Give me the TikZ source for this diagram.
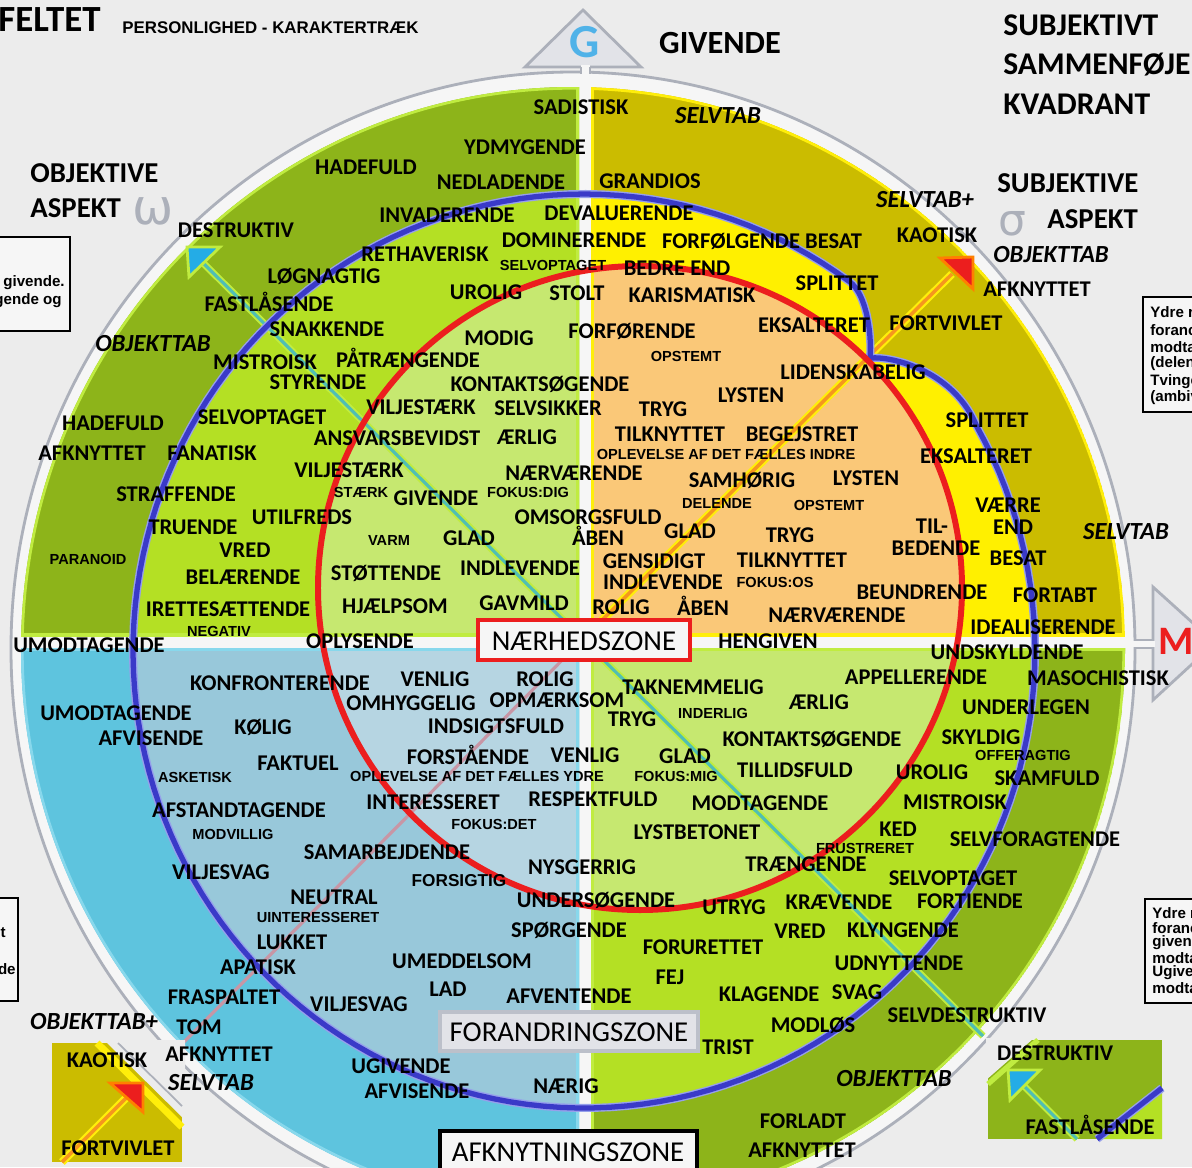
\documentclass[tikz,border=0pt]{standalone}
\usepackage{fontspec}
\setmainfont{Carlito}
\newfontfamily\arialfont{Liberation Sans}
\newfontfamily\symfont{DejaVu Sans}
\usepackage{xcolor}
\usepackage{tikz}

%% colours
\definecolor{bgc}{RGB}{236,236,236}
\definecolor{ringc}{RGB}{246,246,246}
\definecolor{rimc}{RGB}{172,176,186}
\definecolor{trifill}{RGB}{226,227,232}
\definecolor{tlout}{RGB}{141,180,26}
\definecolor{tlmid}{RGB}{180,224,36}
\definecolor{tlin}{RGB}{198,232,112}
\definecolor{tlrim}{RGB}{192,236,64}
\definecolor{trout}{RGB}{203,188,0}
\definecolor{trmid}{RGB}{255,240,0}
\definecolor{trin}{RGB}{250,200,120}
\definecolor{trrim}{RGB}{255,238,10}
\definecolor{blout}{RGB}{94,196,222}
\definecolor{blmid}{RGB}{152,200,218}
\definecolor{blin}{RGB}{182,213,226}
\definecolor{blrim}{RGB}{136,216,236}
\definecolor{bluel}{RGB}{58,58,200}
\definecolor{blueglow}{RGB}{150,160,235}
\definecolor{redl}{RGB}{236,30,30}
\definecolor{teall}{RGB}{80,190,180}
\definecolor{mauvel}{RGB}{200,150,165}
\definecolor{orangel}{RGB}{245,150,30}
\definecolor{headblue}{RGB}{36,172,230}
\definecolor{gblue}{RGB}{80,178,232}
\definecolor{zonegray}{RGB}{188,192,202}

%% paths shared by the quadrants
\def\outerdisk{(573,649) ellipse [x radius=552, y radius=562]}
\def\reddisk{(640,588) circle [radius=322]}
\def\bluepath{plot[variable=\ang,domain=-29.4:306.1,samples=160] ({584+451*cos(\ang)},{651+457*sin(\ang)}) .. controls (866,294) and (872,332) .. (870,358) .. controls (894,356) and (955,372) .. (977,427) -- cycle}

\begin{document}
\begin{tikzpicture}[x=0.02cm,y=-0.02cm,
  lbl/.style={inner sep=0pt,text height=8.2pt,text depth=0pt,font=\bfseries\fontsize{12.8}{14}\selectfont},
  sml/.style={inner sep=0pt,text height=5.9pt,text depth=0pt,font=\arialfont\bfseries\fontsize{8.3}{9}\selectfont},
  itl/.style={inner sep=0pt,text height=9pt,text depth=0pt,font=\bfseries\itshape\fontsize{14}{15}\selectfont},
  hdg/.style={inner sep=0pt,anchor=west,font=\bfseries\fontsize{16.4}{18}\selectfont},
  zone/.style={inner sep=0pt,font=\fontsize{16.4}{18}\selectfont},
  boxtxt/.style={inner sep=0pt,anchor=west,font=\arialfont\bfseries\fontsize{8.6}{9}\selectfont}]
\useasboundingbox (0,0) rectangle (1192,1167);
\clip (0,0) rectangle (1192,1167);
\fill[bgc] (0,0) rectangle (1192,1167);
%% outer ring
\filldraw[fill=ringc,draw=rimc,line width=1.6pt] (573,649) ellipse [x radius=562, y radius=577];
%% quadrants
\foreach \qx/\qy/\qX/\qY/\oc/\mc/\ic/\rc in {-20/-20/579/636/tlout/tlmid/tlin/tlrim,
  591/-20/1220/636/trout/trmid/trin/trrim, -20/648/579/1220/blout/blmid/blin/blrim,
  591/648/1220/1220/tlout/tlmid/tlin/tlrim}{
  \begin{scope}
    \clip (\qx,\qy) rectangle (\qX,\qY);
    \clip \outerdisk;
    \fill[\oc] \outerdisk;
    \fill[\mc] \bluepath;
    \fill[\ic] \reddisk;
    \draw[\rc,line width=3pt] \outerdisk;
    \draw[\rc,line width=3pt] (\qx,\qy) rectangle (\qX,\qY);
  \end{scope}
}
%% diagonals
\draw[tlrim,line width=4pt] (192,252) -- (983,1036);
\draw[teall,line width=1.8pt] (192,252) -- (983,1036);
\draw[mauvel,line width=1.8pt] (582,640) -- (178,1048);
\draw[trrim,line width=4.5pt] (590,632) -- (952,274);
\draw[orangel,line width=2pt] (590,632) -- (952,274);
%% circles
\draw[blueglow,line width=4.6pt] \bluepath;
\draw[bluel,line width=3pt] \bluepath;
\draw[redl,line width=3.4pt] \reddisk;
%% arrow heads
\filldraw[fill=headblue,draw=tlrim,line width=1.6pt] (187,247) -- (220,247) -- (189,277) -- cycle;
\filldraw[fill=redl,draw=orange,line width=1.6pt] (940,258) -- (973,257) -- (973,289) -- cycle;
%% G and M pointers
\filldraw[fill=trifill,draw=rimc,line width=1.6pt] (583,10) -- (641,67) -- (525,67) -- cycle;
\fill[ringc] (581,65) rectangle (590,80);
\draw[rimc,line width=1.6pt] (581,67) -- (581,74) (590,67) -- (590,74);
\node[text=gblue,inner sep=0pt,font=\bfseries\fontsize{27}{27}\selectfont] (gsym) at (585,42) {G};
\filldraw[fill=trifill,draw=rimc,line width=1.6pt] (1153,587) -- (1215,643) -- (1153,700) -- cycle;
\fill[ringc] (1130,641) rectangle (1155,647);
\draw[rimc,line width=1.6pt] (1134,640) -- (1153,640) (1134,648) -- (1153,648);
\node[text=redl,inner sep=0pt,font=\bfseries\fontsize{23}{23}\selectfont] (msym) at (1176,641) {M};
%% aspect symbols
\node[text=rimc,inner sep=0pt,font=\symfont\fontsize{28}{28}\selectfont] (omg) at (153,211) {ω};
\node[text=rimc,inner sep=0pt,font=\symfont\fontsize{25}{25}\selectfont] (sig) at (1012,224) {σ};
%% headings
\node[inner sep=0pt,anchor=west,font=\bfseries\fontsize{21}{22}\selectfont] (felt) at (-2,20) {FELTET};
\node[inner sep=0pt,anchor=west,font=\arialfont\bfseries\fontsize{9.6}{10}\selectfont] (pers) at (122,28) {PERSONLIGHED - KARAKTERTRÆK};
\node[inner sep=0pt,font=\bfseries\fontsize{18.4}{20}\selectfont] (giv) at (720,43) {GIVENDE};
\node[hdg,font=\bfseries\fontsize{18}{20}\selectfont] (sub1) at (1003,25) {SUBJEKTIVT};
\node[hdg,font=\bfseries\fontsize{18}{20}\selectfont] (sub2) at (1003,65) {SAMMENFØJE};
\node[hdg,font=\bfseries\fontsize{18}{20}\selectfont] (sub3) at (1003,104) {KVADRANT};
\node[hdg] (obj1) at (30,173) {OBJEKTIVE};
\node[hdg] (obj2) at (30,208) {ASPEKT};
\node[hdg] (sas1) at (997,183) {SUBJEKTIVE};
\node[hdg] (sas2) at (1047,219) {ASPEKT};
%% side boxes
\draw[line width=1.6pt,fill=ringc] (-5,237) rectangle (70,331);
\node[inner sep=0pt,anchor=east,font=\arialfont\bfseries\fontsize{8.6}{9}\selectfont] (lb1) at (65,283) {e givende.};
\node[inner sep=0pt,anchor=east,font=\arialfont\bfseries\fontsize{8.6}{9}\selectfont] (lb2) at (62,301) {gende og};
\draw[line width=1.6pt,fill=ringc] (-5,898) rectangle (18,1001);
\node[inner sep=0pt,anchor=east,font=\arialfont\bfseries\fontsize{8.6}{9}\selectfont] (lb3) at (6,933) {t};
\node[inner sep=0pt,anchor=east,font=\arialfont\bfseries\fontsize{8.6}{9}\selectfont] (lb4) at (16,969) {de};
\draw[line width=1.6pt,fill=ringc] (1143,297) rectangle (1200,412);
\foreach \py/\w [count=\i] in {312/Ydre r, 330/foranc, 347/modta, 364/(delen, 382/Tvinge, 398/(ambiv}
  \node[boxtxt] (ra\i) at (1150,\py) {\w};
\draw[line width=1.6pt,fill=ringc] (1145,899) rectangle (1200,1003);
\foreach \py/\w [count=\i] in {913/Ydre r, 928/foranc, 943/given, 958/modta, 973/Ugive, 988/modta}
  \node[boxtxt] (rb\i) at (1152,\py) {\w};
%% inset: lower left
\fill[trout] (52,1043) rectangle (182,1162);
\fill[bgc] (104,1040) -- (185,1040) -- (185,1120) -- cycle;
\draw[trrim,line width=4pt] (97,1043) -- (182,1127);
\draw[rimc,line width=1pt] (118,1043) -- (182,1106);
\draw[trrim,line width=4.5pt] (62,1162) -- (130,1094);
\draw[orangel,line width=2pt] (62,1162) -- (130,1094);
\filldraw[fill=redl,draw=orange,line width=1.6pt] (110,1083) -- (143,1083) -- (143,1112) -- cycle;
%% inset: lower right
\fill[tlout] (988,1040) rectangle (1162,1139);
\fill[bgc] (986,1038) -- (1034,1038) -- (986,1080) -- cycle;
\draw[tlrim,line width=3pt] (988,1084) -- (1038,1040);
\fill[tlmid] (1162,1090) -- (1162,1139) -- (1098,1139) -- cycle;
\draw[tlrim,line width=4pt] (1010,1072) -- (1077,1139);
\draw[teall,line width=1.8pt] (1010,1072) -- (1077,1139);
\draw[blueglow,line width=4.6pt] (1162,1088) -- (1097,1139);
\draw[bluel,line width=3pt] (1162,1088) -- (1097,1139);
\filldraw[fill=headblue,draw=tlrim,line width=1.6pt] (1008,1070) -- (1040,1070) -- (1010,1100) -- cycle;
%% main words
\foreach \px/\py/\w [count=\i] in {
581/107/SADISTISK, 525/147/YDMYGENDE, 366/167/HADEFULD, 501/182/NEDLADENDE, 650/181/GRANDIOS,
447/215/INVADERENDE, 619/213/DEVALUERENDE, 236/230/DESTRUKTIV, 574/240/DOMINERENDE,
762/241/FORFØLGENDE BESAT, 937/235/KAOTISK, 425/254/RETHAVERISK, 677/268/BEDRE END,
324/276/LØGNAGTIG, 1037/289/AFKNYTTET, 486/292/UROLIG, 577/293/STOLT, 692/295/KARISMATISK,
837/283/SPLITTET, 269/304/FASTLÅSENDE, 327/329/SNAKKENDE, 499/338/MODIG, 632/331/FORFØRENDE,
814/325/EKSALTERET, 946/323/FORTVIVLET, 265/362/MISTROISK, 408/360/PÅTRÆNGENDE, 318/382/STYRENDE,
853/372/LIDENSKABELIG, 540/384/KONTAKTSØGENDE, 751/395/LYSTEN, 421/407/VILJESTÆRK,
548/408/SELVSIKKER, 663/409/TRYG, 262/417/SELVOPTAGET, 113/423/HADEFULD, 987/420/SPLITTET,
397/438/ANSVARSBEVIDST, 527/437/ÆRLIG, 670/434/TILKNYTTET, 802/434/BEGEJSTRET, 92/453/AFKNYTTET,
212/453/FANATISK, 976/456/EKSALTERET, 349/470/VILJESTÆRK, 574/473/NÆRVÆRENDE, 742/480/SAMHØRIG,
866/478/LYSTEN, 176/494/STRAFFENDE, 436/498/GIVENDE, 1008/505/VÆRRE, 302/517/UTILFREDS,
588/517/OMSORGSFULD, 193/527/TRUENDE, 932/526/TIL-, 1013/527/END, 690/531/GLAD, 790/535/TRYG,
469/538/GLAD, 598/538/ÅBEN, 245/550/VRED, 936/548/BEDENDE, 1018/558/BESAT, 654/561/GENSIDIGT,
792/560/TILKNYTTET, 386/573/STØTTENDE, 520/568/INDLEVENDE, 243/577/BELÆRENDE, 663/582/INDLEVENDE,
922/592/BEUNDRENDE, 1055/595/FORTABT, 524/603/GAVMILD, 395/606/HJÆLPSOM, 621/607/ROLIG,
703/608/ÅBEN, 228/609/IRETTESÆTTENDE, 837/615/NÆRVÆRENDE, 1043/627/IDEALISERENDE,
89/645/UMODTAGENDE, 360/641/OPLYSENDE, 768/641/HENGIVEN, 1007/652/UNDSKYLDENDE,
916/677/APPELLERENDE, 1098/678/MASOCHISTISK, 280/683/KONFRONTERENDE, 435/679/VENLIG,
545/679/ROLIG, 693/687/TAKNEMMELIG, 411/703/OMHYGGELIG, 557/700/OPMÆRKSOM, 819/702/ÆRLIG,
1026/707/UNDERLEGEN, 116/713/UMODTAGENDE, 632/719/TRYG, 263/727/KØLIG, 496/726/INDSIGTSFULD,
151/738/AFVISENDE, 812/739/KONTAKTSØGENDE, 981/737/SKYLDIG, 468/757/FORSTÅENDE, 585/755/VENLIG,
685/756/GLAD, 298/763/FAKTUEL, 795/770/TILLIDSFULD, 932/772/UROLIG, 1047/778/SKAMFULD,
593/799/RESPEKTFULD, 433/802/INTERESSERET, 760/803/MODTAGENDE, 955/802/MISTROISK,
239/810/AFSTANDTAGENDE, 697/832/LYSTBETONET, 898/829/KED, 1035/839/SELVFORAGTENDE,
387/852/SAMARBEJDENDE, 806/864/TRÆNGENDE, 582/867/NYSGERRIG, 221/872/VILJESVAG,
953/878/SELVOPTAGET, 334/897/NEUTRAL, 596/900/UNDERSØGENDE, 734/907/UTRYG, 839/902/KRÆVENDE,
970/901/FORTIENDE, 569/930/SPØRGENDE, 800/931/VRED, 903/930/KLYNGENDE, 292/942/LUKKET,
703/947/FORURETTET, 462/961/UMEDDELSOM, 258/967/APATISK, 899/963/UDNYTTENDE, 670/977/FEJ,
448/989/LAD, 224/997/FRASPALTET, 569/996/AFVENTENDE, 769/994/KLAGENDE, 857/992/SVAG,
359/1004/VILJESVAG, 199/1027/TOM, 967/1015/SELVDESTRUKTIV, 813/1025/MODLØS, 728/1047/TRIST,
219/1054/AFKNYTTET, 107/1060/KAOTISK, 1055/1053/DESTRUKTIV, 401/1066/UGIVENDE,
417/1091/AFVISENDE, 566/1086/NÆRIG, 803/1121/FORLADT, 802/1150/AFKNYTTET,
1090/1127/FASTLÅSENDE, 118/1148/FORTVIVLET}
  \node[lbl] (w\i) at (\px,\py) {\w};
%% small words
\foreach \px/\py/\w [count=\i] in {
553/265/SELVOPTAGET, 686/356/OPSTEMT, 726/454/OPLEVELSE AF DET FÆLLES INDRE, 361/492/STÆRK,
528/492/FOKUS:DIG, 717/503/DELENDE, 829/505/OPSTEMT, 389/540/VARM, 88/559/PARANOID,
775/582/FOKUS:OS, 219/631/NEGATIV, 713/713/INDERLIG, 1023/755/OFFERAGTIG, 195/777/ASKETISK,
477/776/OPLEVELSE AF DET FÆLLES YDRE, 676/776/FOKUS:MIG, 233/834/MODVILLIG, 494/824/FOKUS:DET,
865/848/FRUSTRERET, 318/917/UINTERESSERET}
  \node[sml] (s\i) at (\px,\py) {\w};
\node[sml,text height=7pt,font=\arialfont\bfseries\fontsize{9.8}{10}\selectfont] (fors) at (459,880) {FORSIGTIG};
%% italic words
\foreach \px/\py/\w [count=\i] in {
718/116/SELVTAB, 925/200/SELVTAB+, 1051/255/OBJEKTTAB, 153/344/OBJEKTTAB, 1126/532/SELVTAB,
94/1022/OBJEKTTAB+, 211/1083/SELVTAB, 894/1079/OBJEKTTAB}
  \node[itl] (t\i) at (\px,\py) {\w};
%% zones
\draw[redl,line width=2.5pt,fill=ringc] (478,620) rectangle (690,660);
\node[zone] (naer) at (584,641) {NÆRHEDSZONE};
\draw[zonegray,line width=2.5pt,fill=trifill] (440,1012) rectangle (698,1051);
\node[zone] (foran) at (569,1032) {FORANDRINGSZONE};
\draw[black,line width=2.5pt,fill=ringc] (440,1131) rectangle (697,1175);
\node[zone] (afkn) at (568,1152) {AFKNYTNINGSZONE};
\end{tikzpicture}
\end{document}
